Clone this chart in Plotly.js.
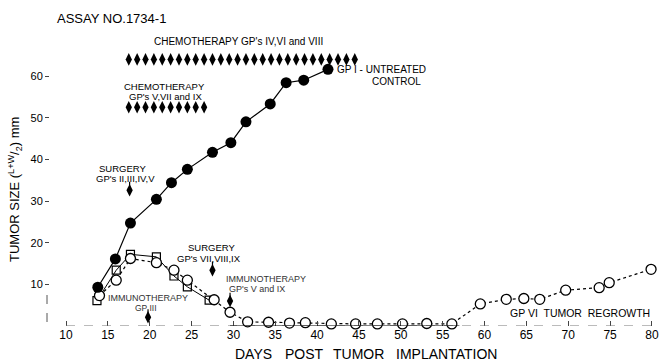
<!DOCTYPE html>
<html>
<head>
<meta charset="utf-8">
<script src="https://cdn.plot.ly/plotly-3.0.1.min.js"></script>
<style>
  html, body { margin: 0; padding: 0; background: #fff; }
  #chart { width: 660px; height: 362px; }
</style>
</head>
<body>
<div id="chart"></div>
<script>
// ---- Data ----
// GP I - untreated control (filled circles, solid line)
const controlDays   = [13.8, 15.9, 17.7, 20.8, 22.6, 24.5, 27.5, 29.7, 31.5, 34.4, 36.3, 38.4, 41.3];
const controlSize   = [9.3, 16.1, 24.7, 30.4, 34.4, 37.6, 41.7, 44.0, 49.0, 53.3, 58.4, 59.0, 61.6];

// Open squares, solid line
const squareDays    = [13.7, 16.0, 17.7, 20.8, 22.9, 24.5, 27.1];
const squareSize    = [6.1, 13.4, 17.2, 16.6, 12.0, 9.4, 6.2];

// Open circles, dotted line (GP VI, with tumor regrowth)
const circleDays    = [14.0, 16.0, 17.7, 20.8, 22.9, 24.5, 27.7, 29.6, 31.7, 34.2, 36.7, 38.6, 41.7, 44.6, 47.2, 50.2, 53.1, 56.1, 59.5, 62.6, 64.7, 66.6, 69.7, 73.7, 74.9, 79.9];
const circleSize    = [7.3, 11.0, 16.2, 15.2, 13.4, 11.0, 6.3, 3.3, 1.0, 0.9, 0.7, 0.8, 0.5, 0.5, 0.5, 0.5, 0.6, 0.5, 5.3, 6.4, 6.6, 6.4, 8.6, 9.2, 10.4, 13.6];

// Chemotherapy treatment days (diamond rows)
const chemoIVVIVIIIDays  = [17.5, 18.5, 19.5, 20.5, 21.5, 22.5, 23.5, 24.5, 25.5, 26.5, 27.5, 28.5, 29.5, 30.5, 31.5, 32.5, 33.5, 34.5, 35.5, 36.5, 37.5, 38.5, 39.5, 40.5, 41.5, 42.5, 43.5, 44.5];
const chemoIVVIVIIILevel = 64.0;
const chemoVVIIIXDays    = [17.5, 18.5, 19.5, 20.5, 21.5, 22.5, 23.5, 24.5, 25.5, 26.5];
const chemoVVIIIXLevel   = 52.5;

// Event arrows (surgery / immunotherapy): day, head level, stem top level
const eventDays  = [17.6, 27.5, 19.8, 29.6];
const eventHead  = [32.6, 13.4, 2.1, 6.0];
const eventTop   = [34.6, 15.4, 4.0, 8.0];

// Tick values
const xTicks = [10, 15, 20, 25, 30, 35, 40, 45, 50, 55, 60, 65, 70, 75, 80];
const yTicks = [10, 20, 30, 40, 50, 60];

// ---- Build ----
const FONT = 'Liberation Sans, Arial, Helvetica, sans-serif';
const INK = '#000';

const stemX = [], stemY = [];
eventDays.forEach((d, i) => { stemX.push(d, d, null); stemY.push(eventTop[i], eventHead[i], null); });

const traces = [
  { x: squareDays, y: squareSize, mode: 'lines+markers', type: 'scatter',
    line: { color: INK, width: 1 },
    marker: { symbol: 'square-open', size: 8, color: INK, line: { width: 1.2 } },
    cliponaxis: false, showlegend: false, hoverinfo: 'x+y' },
  { x: circleDays, y: circleSize, mode: 'lines+markers', type: 'scatter',
    line: { color: INK, width: 1.2, dash: 'dot' },
    marker: { symbol: 'circle', size: 10, color: '#fff', line: { color: INK, width: 1.3 } },
    cliponaxis: false, showlegend: false, hoverinfo: 'x+y' },
  { x: controlDays, y: controlSize, mode: 'lines+markers', type: 'scatter',
    line: { color: INK, width: 1.2 },
    marker: { symbol: 'circle', size: 11, color: INK },
    cliponaxis: false, showlegend: false, hoverinfo: 'x+y' },
  { x: chemoIVVIVIIIDays, y: chemoIVVIVIIIDays.map(() => chemoIVVIVIIILevel), mode: 'markers', type: 'scatter',
    marker: { symbol: 'diamond-tall', size: 9, color: INK },
    cliponaxis: false, showlegend: false, hoverinfo: 'x' },
  { x: chemoVVIIIXDays, y: chemoVVIIIXDays.map(() => chemoVVIIIXLevel), mode: 'markers', type: 'scatter',
    marker: { symbol: 'diamond-tall', size: 9, color: INK },
    cliponaxis: false, showlegend: false, hoverinfo: 'x' },
  { x: stemX, y: stemY, mode: 'lines', type: 'scatter',
    line: { color: INK, width: 1.2 }, showlegend: false, hoverinfo: 'skip', cliponaxis: false },
  { x: eventDays, y: eventHead, mode: 'markers', type: 'scatter',
    marker: { symbol: 'diamond-tall', size: 9, color: INK },
    cliponaxis: false, showlegend: false, hoverinfo: 'x' }
];

// pixel -> paper helper for text placement
const L = 50, W = 610, H = 326;
const P = (px, py) => ({ x: (px - L) / W, y: (H - py) / H });
function txt(text, px, py, size, anchor, color) {
  const p = P(px, py);
  return { text: text, x: p.x, y: p.y, xref: 'paper', yref: 'paper',
    xanchor: anchor || 'left', yanchor: 'middle', showarrow: false,
    font: { family: FONT, size: size, color: color || INK } };
}

const annotations = [
  txt('ASSAY NO.1734-1', 55, 18, 13),
  txt("CHEMOTHERAPY GP's IV,VI and VIII", 152, 41, 10),
  txt('CHEMOTHERAPY', 164, 86, 9.5, 'center'),
  txt("GP's V,VII and IX", 165, 97, 9.5, 'center'),
  txt('GP I - UNTREATED', 335, 69, 10),
  txt('CONTROL', 370, 81, 10),
  txt('SURGERY', 122, 168, 9.5, 'center'),
  txt("GP's II,III,IV,V", 125, 179, 9.5, 'center'),
  txt('SURGERY', 211, 247, 9.5, 'center'),
  txt("GP's VII,VIII,IX", 209, 258, 9.5, 'center'),
  txt('IMMUNOTHERAPY', 106, 298, 9, 'left', '#333'),
  txt('GP III', 146, 307.5, 8.5, 'center', '#333'),
  txt('IMMUNOTHERAPY', 224, 279, 9, 'left', '#333'),
  txt("GP's V and IX", 227, 289, 9, 'left', '#333'),
  txt('GP VI  TUMOR  REGROWTH', 508, 313, 10.5),
  txt('DAYS', 233, 354, 14),
  txt('POST', 283, 354, 14),
  txt('TUMOR', 331, 354, 14),
  txt('IMPLANTATION', 394, 354, 14),
  Object.assign(txt('TUMOR SIZE (<sup>L+W</sup>/<sub>2</sub>) mm', 15, 190, 13, 'center'), { textangle: -90 })
];

const shapes = [
  // broken x-axis baseline
  { type: 'line', xref: 'x', yref: 'y', x0: 10, x1: 80, y0: 0, y1: 0,
    line: { color: '#777', width: 1, dash: 'dash' } },
  { type: 'line', xref: 'x', yref: 'y', x0: 29.6, x1: 57, y0: 0, y1: 0,
    line: { color: INK, width: 1.2 } },
  // faint y-axis fragment
  { type: 'line', xref: 'paper', yref: 'paper', x0: P(47, 0).x, x1: P(47, 0).x, y0: P(0, 322).y, y1: P(0, 293).y,
    line: { color: '#555', width: 1, dash: 'dash' } }
];

const PX_PER_DAY = 8.37, X10 = 66;
const layout = {
  width: 660, height: 362,
  margin: { l: L, r: 0, t: 0, b: 36 },
  paper_bgcolor: '#fff', plot_bgcolor: '#fff',
  font: { family: FONT, color: INK },
  showlegend: false,
  xaxis: {
    range: [10 - (X10 - L) / PX_PER_DAY, 10 + (L + W - X10) / PX_PER_DAY],
    tickvals: xTicks, ticktext: xTicks.map(String),
    ticks: 'inside', ticklen: 5, tickcolor: '#444', tickwidth: 1,
    showgrid: false, zeroline: false, showline: false,
    tickfont: { family: FONT, size: 12, color: INK }
  },
  yaxis: {
    range: [0, 326 / 4.166],
    tickvals: yTicks, ticktext: yTicks.map(String),
    ticks: 'outside', ticklen: 4, tickcolor: '#444', tickwidth: 1,
    showgrid: false, zeroline: false, showline: false,
    tickfont: { family: FONT, size: 11, color: INK }
  },
  annotations: annotations,
  shapes: shapes
};

Plotly.newPlot('chart', traces, layout, { staticPlot: true, displayModeBar: false });
</script>
</body>
</html>
